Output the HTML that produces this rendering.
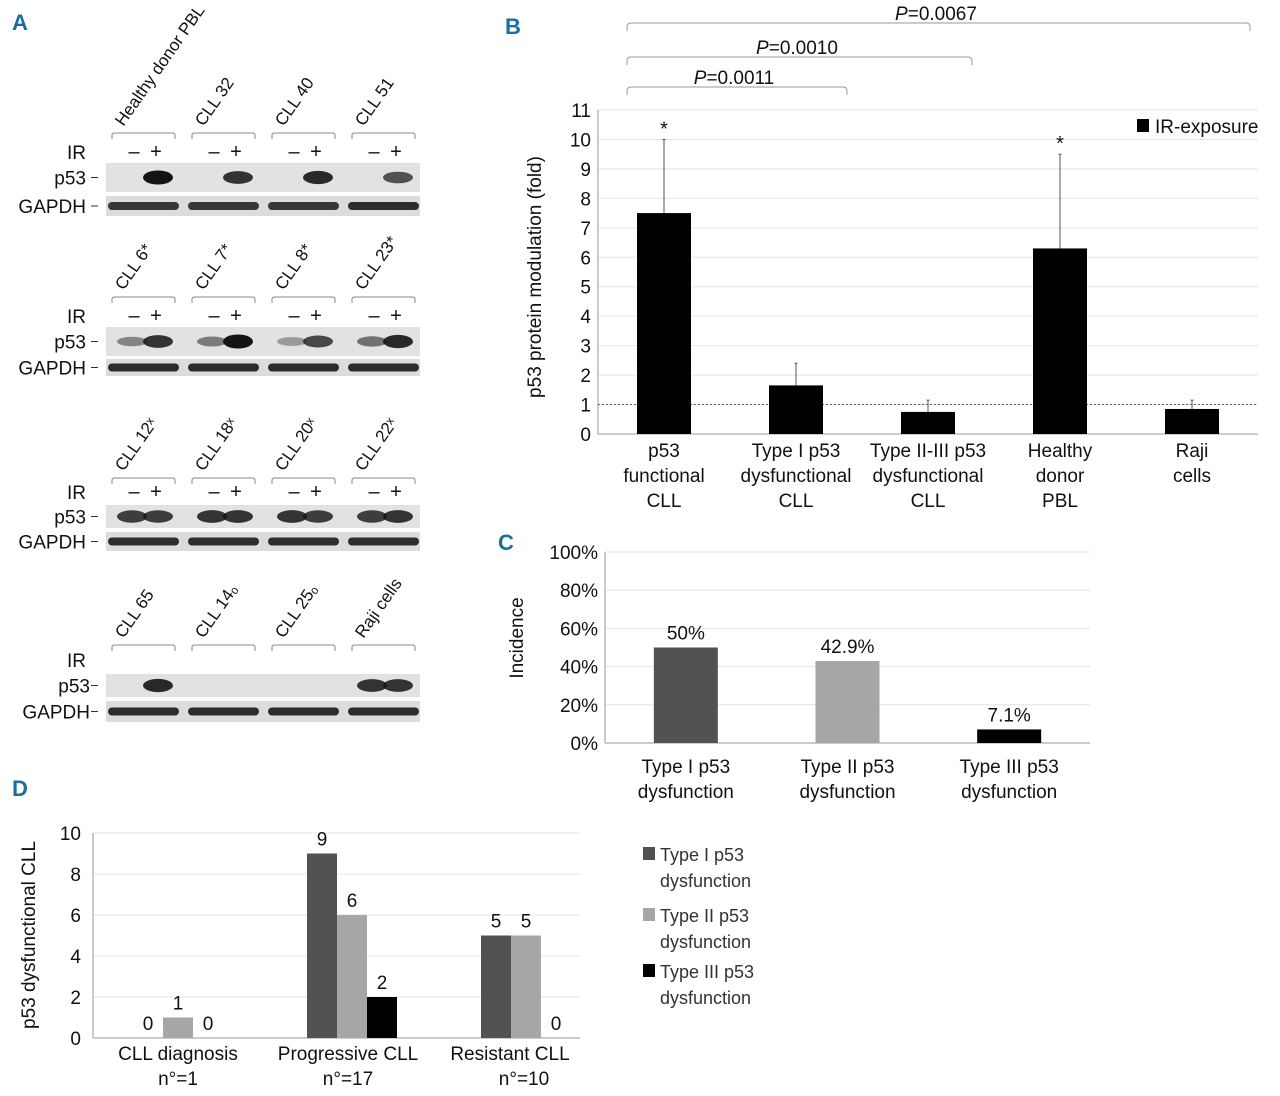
<!DOCTYPE html>
<html><head><meta charset="utf-8">
<style>
html,body{margin:0;padding:0;background:#fff;}
svg{display:block;font-family:"Liberation Sans Narrow","Liberation Sans",sans-serif;}
</style></head>
<body>
<svg id="fig" width="1280" height="1096" viewBox="0 0 1280 1096" xmlns="http://www.w3.org/2000/svg">
<g id="panelA"></g>
<g id="panelB"></g>
<g id="panelC"></g>
<g id="panelD"></g>
</svg>
<script>
// ---------- Panel B data ----------
const bCategories = [["p53","functional","CLL"],["Type I p53","dysfunctional","CLL"],["Type II-III p53","dysfunctional","CLL"],["Healthy","donor","PBL"],["Raji","cells"]];
const bValues = [7.5, 1.65, 0.75, 6.3, 0.85];
const bErrTop = [10, 2.4, 1.15, 9.5, 1.15];
const bStar = [true, false, false, true, false];
const bTicks = [0,1,2,3,4,5,6,7,8,9,10,11];
const bPvals = ["0.0011","0.0010","0.0067"];
const bPto = [1, 2, 4];
// ---------- Panel C data ----------
const cCategories = [["Type I p53","dysfunction"],["Type II p53","dysfunction"],["Type III p53","dysfunction"]];
const cValues = [50, 42.9, 7.1];
const cLabels = ["50%","42.9%","7.1%"];
const cTicks = [0,20,40,60,80,100];
// ---------- Panel D data ----------
const dCategories = [["CLL diagnosis","n°=1"],["Progressive CLL","n°=17"],["Resistant CLL","n°=10"]];
const dType1 = [0, 9, 5];
const dType2 = [1, 6, 5];
const dType3 = [0, 2, 0];
const dSeriesNames = ["Type I p53","Type II p53","Type III p53"];
const dTicks = [0,2,4,6,8,10];

const NS="http://www.w3.org/2000/svg";
function el(parent, tag, attrs, text){
  const e=document.createElementNS(NS,tag);
  for(const k in attrs) e.setAttribute(k, attrs[k]);
  if(text!==undefined) e.textContent=text;
  parent.appendChild(e); return e;
}
const svg=document.getElementById('fig');
function panelLetter(g,x,y,t){
  const e=el(g,'text',{x:x,y:y,'font-size':22,'font-weight':'bold',fill:'#1a6fa0'},t);
  
  
}

// ================= Panel A =================
(function(){
  const g=document.getElementById('panelA');
  panelLetter(g,12,30,'A');
  const rows=[
    {labels:["Healthy donor PBL","CLL 32","CLL 40","CLL 51"],br:133,ir:152,p:[163,192],gd:[196,216],p53:[[0,.0],[0,.95],[0,.7],[0,.85],[0,.6]], showIR:true, p53b:[[0,1],[0,.85],[0,.9],[0,.7]], gapB:[.85,.85,.85,.9], lx:14},
    {labels:["CLL 6*","CLL 7*","CLL 8*","CLL 23*"],br:297,ir:316,p:[327,356],gd:[359,376],showIR:true,p53b:[[.45,.85],[.5,1],[.35,.75],[.55,.9]],gapB:[.9,.9,.9,.9], lx:14},
    {labels:["CLL 12ˣ","CLL 18ˣ","CLL 20ˣ","CLL 22ˣ"],br:478,ir:492,p:[505,528],gd:[532,551],showIR:true,p53b:[[.8,.8],[.85,.85],[.85,.8],[.8,.85]],gapB:[.9,.9,.9,.9], lx:14},
    {labels:["CLL 65","CLL 14ₒ","CLL 25ₒ","Raji cells"],br:645,ir:660,p:[674,697],gd:[701,722],showIR:false,p53b:[[0,.9],[0,0],[0,0],[.85,.85]],gapB:[.9,.9,.9,.9], lx:18}
  ];
  const gx=[112,192,272,352], gw=63;
  rows.forEach((r,ri)=>{
    const rg=el(g,'g',{});
    
    
    r.labels.forEach((lb,i)=>{
      const cx=gx[i]+gw/2;
      const t=el(rg,'text',{x:0,y:0,'font-size':17,fill:'#111',transform:`translate(${cx-20},${r.br-6}) rotate(-55)`},lb);
      
      
      el(rg,'path',{d:`M${gx[i]} ${r.br+6} L${gx[i]} ${r.br+2} Q${gx[i]} ${r.br} ${gx[i]+3} ${r.br} L${gx[i]+gw-3} ${r.br} Q${gx[i]+gw} ${r.br} ${gx[i]+gw} ${r.br+2} L${gx[i]+gw} ${r.br+6}`,fill:'none',stroke:'#888','stroke-width':1});
      if(r.showIR){
        el(rg,'text',{x:gx[i]+22,y:r.ir+6,'font-size':20,'text-anchor':'middle',fill:'#111'},'–');
        el(rg,'text',{x:gx[i]+44,y:r.ir+6,'font-size':20,'text-anchor':'middle',fill:'#111'},'+');
      }
    });
    el(rg,'text',{x:86,y:r.ir+7,'font-size':19,'text-anchor':'end',fill:'#111'},'IR');
    el(rg,'text',{x:r.lx+72,y:(r.p[0]+r.p[1])/2+7,'font-size':19,'text-anchor':'end',fill:'#111'},'p53');
    el(rg,'text',{x:r.lx+72,y:(r.gd[0]+r.gd[1])/2+7,'font-size':19,'text-anchor':'end',fill:'#111'},'GAPDH');
    el(rg,'line',{x1:91,x2:98,y1:(r.p[0]+r.p[1])/2,y2:(r.p[0]+r.p[1])/2,stroke:'#333'});
    el(rg,'line',{x1:91,x2:98,y1:(r.gd[0]+r.gd[1])/2,y2:(r.gd[0]+r.gd[1])/2,stroke:'#333'});
    el(rg,'rect',{x:106,y:r.p[0],width:314,height:r.p[1]-r.p[0],fill:'#e2e2e2'});
    el(rg,'rect',{x:106,y:r.gd[0],width:314,height:r.gd[1]-r.gd[0],fill:'#dcdcdc'});
    const py=(r.p[0]+r.p[1])/2, gy=(r.gd[0]+r.gd[1])/2;
    gx.forEach((x,i)=>{
      [0,1].forEach(j=>{
        const v=r.p53b[i][j];
        if(v>0){
          const b=el(rg,'ellipse',{cx:x+20+j*26,cy:py,rx:15,ry:3+4*v,fill:`rgba(20,20,20,${v})`});
          
          
        }
      });
      el(rg,'rect',{x:x-4,y:gy-4,width:gw+8,height:8,rx:4,fill:'#1a1a1a','fill-opacity':r.gapB[i]});
    });
  });
})();

// ================= Panel B =================
(function(){
  const g=document.getElementById('panelB');
  panelLetter(g,505,34,'B');
  const x0=598, x1=1258, y0=434, yTop=110, yMax=11;
  const Y=v=>y0-(v/yMax)*(y0-yTop);
  const step=(x1-x0)/bCategories.length;
  const X=i=>x0+step*(i+0.5);
  bTicks.forEach(t=>{
    if(t>0) el(g,'line',{x1:x0,x2:x1,y1:Y(t),y2:Y(t),stroke:'#e4e4e4'});
    const tl=el(g,'text',{x:x0-7,y:Y(t)+7,'font-size':19,'text-anchor':'end',fill:'#111'},t);
    
    
  });
  el(g,'line',{x1:x0,x2:x0,y1:yTop,y2:y0,stroke:'#999'});
  el(g,'line',{x1:x0,x2:x1,y1:y0,y2:y0,stroke:'#999'});
  el(g,'line',{x1:x0,x2:x1,y1:Y(1),y2:Y(1),stroke:'#666','stroke-dasharray':'2,2'});
  const yt=el(g,'text',{x:0,y:0,'font-size':19,'text-anchor':'middle',fill:'#111',transform:`translate(541,${(y0+yTop)/2+5}) rotate(-90)`},'p53 protein modulation (fold)');
  
  
  bValues.forEach((v,i)=>{
    const cx=X(i);
    el(g,'line',{x1:cx,x2:cx,y1:Y(bErrTop[i]),y2:Y(v),stroke:'#555'});
    el(g,'line',{x1:cx-1.5,x2:cx+1.5,y1:Y(bErrTop[i]),y2:Y(bErrTop[i]),stroke:'#555'});
    const b=el(g,'rect',{x:cx-27,y:Y(v),width:54,height:y0-Y(v),fill:'#000'});
    
    
    if(bStar[i]) el(g,'text',{x:cx,y:Y(bErrTop[i])-4,'font-size':20,'text-anchor':'middle',fill:'#111'},'*');
    bCategories[i].forEach((ln,k)=>{
      el(g,'text',{x:cx,y:y0+23+k*25,'font-size':19,'text-anchor':'middle',fill:'#111'},ln);
    });
  });
  // legend
  const lg=el(g,'g',{});
  
  
  el(lg,'rect',{x:1137,y:119,width:12,height:13,fill:'#000'});
  el(lg,'text',{x:1155,y:133,'font-size':19,fill:'#111'},'IR-exposure');
  // significance brackets
  const brY=[87,57,23];
  bPvals.forEach((p,i)=>{
    const xa=627, xb=[847,972,1250][i], y=brY[i];
    el(g,'path',{d:`M${xa} ${y+8} L${xa} ${y+4} Q${xa} ${y} ${xa+4} ${y} L${xb-4} ${y} Q${xb} ${y} ${xb} ${y+4} L${xb} ${y+8}`,fill:'none',stroke:'#999'});
    const t=el(g,'text',{x:[734,797,936][i],y:y-3,'font-size':19,'text-anchor':'middle',fill:'#111'});
    
    
    el(t,'tspan',{'font-style':'italic'},'P');
    el(t,'tspan',{},'='+p);
  });
})();

// ================= Panel C =================
(function(){
  const g=document.getElementById('panelC');
  panelLetter(g,498,550,'C');
  const x0=605, x1=1090, y0=743, yTop=552;
  const Y=v=>y0-(v/100)*(y0-yTop);
  const step=(x1-x0)/cCategories.length;
  const X=i=>x0+step*(i+0.5);
  cTicks.forEach(t=>{
    if(t>0) el(g,'line',{x1:x0,x2:x1,y1:Y(t),y2:Y(t),stroke:'#e4e4e4'});
    el(g,'text',{x:x0-7,y:Y(t)+7,'font-size':19,'text-anchor':'end',fill:'#111'},t+'%');
  });
  el(g,'line',{x1:x0,x2:x0,y1:yTop,y2:y0,stroke:'#999'});
  el(g,'line',{x1:x0,x2:x1,y1:y0,y2:y0,stroke:'#999'});
  el(g,'text',{x:0,y:0,'font-size':19,'text-anchor':'middle',fill:'#111',transform:`translate(523,638) rotate(-90)`},'Incidence');
  const cols=['#525252','#a6a6a6','#000'];
  cValues.forEach((v,i)=>{
    const cx=X(i);
    const b=el(g,'rect',{x:cx-32,y:Y(v),width:64,height:y0-Y(v),fill:cols[i]});
    
    
    el(g,'text',{x:cx,y:Y(v)-8,'font-size':19,'text-anchor':'middle',fill:'#111'},cLabels[i]);
    cCategories[i].forEach((ln,k)=>el(g,'text',{x:cx,y:y0+30+k*25,'font-size':19,'text-anchor':'middle',fill:'#111'},ln));
  });
})();

// ================= Panel D =================
(function(){
  const g=document.getElementById('panelD');
  panelLetter(g,12,796,'D');
  const x0=93, x1=580, y0=1038, yTop=833;
  const Y=v=>y0-(v/10)*(y0-yTop);
  const centers=[178,352,526];
  const labelX=[178,348,510];
  dTicks.forEach(t=>{
    if(t>0) el(g,'line',{x1:x0,x2:x1,y1:Y(t),y2:Y(t),stroke:'#e4e4e4'});
    el(g,'text',{x:x0-12,y:Y(t)+7,'font-size':19,'text-anchor':'end',fill:'#111'},t);
  });
  el(g,'line',{x1:x0,x2:x0,y1:yTop,y2:y0,stroke:'#999'});
  el(g,'line',{x1:x0,x2:x1,y1:y0,y2:y0,stroke:'#999'});
  el(g,'text',{x:0,y:0,'font-size':19,'text-anchor':'middle',fill:'#111',transform:`translate(35,935) rotate(-90)`},'p53 dysfunctional CLL');
  const series=[dType1,dType2,dType3], cols=['#525252','#a6a6a6','#000'];
  series.forEach((s,si)=>{
    s.forEach((v,i)=>{
      const bx=centers[i]-45+si*30;
      const b=el(g,'rect',{x:bx,y:Y(v),width:30,height:y0-Y(v),fill:cols[si]});
      
      
      el(g,'text',{x:bx+15,y:Y(v)-8,'font-size':19,'text-anchor':'middle',fill:'#111'},v);
    });
  });
  dCategories.forEach((c,i)=>c.forEach((ln,k)=>el(g,'text',{x:labelX[i]+(k==1&&i==2?14:0),y:y0+22+k*25,'font-size':19,'text-anchor':'middle',fill:'#111'},ln)));
  const ly=[855,916,972];
  dSeriesNames.forEach((n,i)=>{
    const lg=el(g,'g',{});
    
    
    el(lg,'rect',{x:643,y:ly[i]-8,width:12,height:13,fill:cols[i]});
    el(lg,'text',{x:660,y:ly[i]+6,'font-size':18,fill:'#333'},n);
    el(lg,'text',{x:660,y:ly[i]+32,'font-size':18,fill:'#333'},'dysfunction');
  });
})();
</script>
</body></html>
